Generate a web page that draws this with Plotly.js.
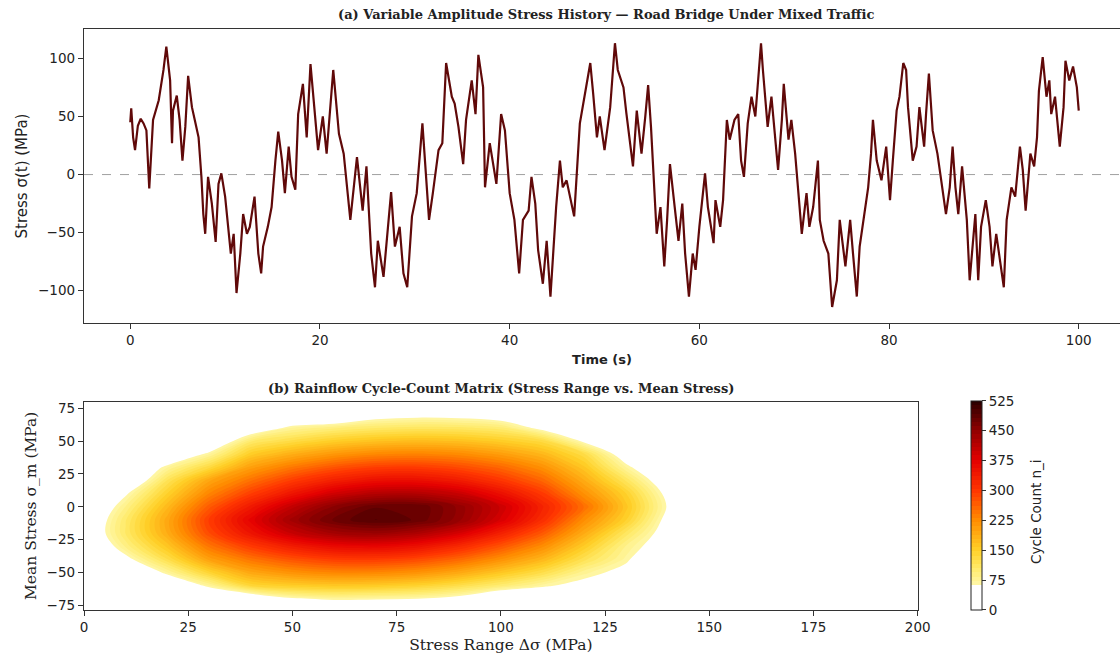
<!DOCTYPE html>
<html><head><meta charset="utf-8">
<script src="https://cdn.plot.ly/plotly-3.0.1.min.js"></script>
<style>html,body{margin:0;padding:0;background:#fff}#chart{width:1120px;height:658px}</style>
</head><body><div id="chart"></div>
<script>
// ---- (a) stress history ----
const timeS = [0,0.1,0.3,0.5,0.8,1.1,1.4,1.7,2.0,2.4,3.0,3.5,3.8,4.2,4.4,4.5,4.9,5.2,5.5,5.8,6.1,6.5,6.8,7.2,7.5,7.7,7.9,8.2,8.6,9.0,9.3,9.6,10.0,10.3,10.6,10.9,11.2,11.6,11.9,12.3,12.6,13.1,13.5,13.8,14.0,14.5,14.9,15.3,15.6,16.0,16.3,16.7,17.0,17.4,17.7,18.2,18.6,19.0,19.5,19.8,20.3,20.7,21.4,
22.0,22.5,23.2,23.9,24.5,24.9,25.4,25.8,26.1,26.7,27.5,27.9,28.4,28.8,29.2,29.7,30.2,30.8,31.1,31.5,31.9,32.5,32.9,33.3,33.9,34.2,34.6,35.1,35.4,36.0,36.4,36.7,37.2,37.4,37.9,38.3,38.6,39.1,39.5,40.0,40.5,41.0,41.4,42.0,42.3,42.7,43.0,43.5,43.9,44.3,44.9,45.3,45.6,46.0,46.3,46.8,47.4,47.9,48.5,48.8,49.2,
49.5,50.0,50.6,51.1,51.4,52.0,52.3,52.7,53.0,53.4,53.9,54.3,54.6,54.9,55.2,55.5,55.9,56.3,56.6,56.9,57.4,57.8,58.2,58.5,58.9,59.3,59.6,60.0,60.6,60.9,61.5,61.7,62.2,62.5,62.9,63.2,63.7,64.1,64.4,64.7,65.1,65.5,65.9,66.2,66.5,66.7,67.2,67.6,67.9,68.3,68.7,68.9,69.4,69.7,70.1,70.4,70.8,71.3,71.6,72.0,72.5,72.7,73.1,73.6,74.0,74.5,74.8,75.4,75.9,
76.2,76.6,76.9,77.4,77.8,78.1,78.3,78.7,79.2,79.7,80.1,80.4,80.8,81.1,81.5,81.8,82.0,82.5,82.9,83.2,83.7,83.9,84.2,84.6,85.1,85.5,86.0,86.4,86.7,87.0,87.3,87.7,88.2,88.5,88.9,89.1,89.4,89.7,90.2,90.6,90.9,91.3,91.7,92.1,92.4,92.9,93.3,93.8,94.1,94.4,94.9,95.3,95.6,95.8,96.2,96.6,96.9,97.1,97.5,98.0,98.4,98.6,99.0,99.4,99.8,100.0];
const stressMPa = [45,57,32,21,42,48,44,38,-12,47,64,90,110,81,27,55,68,47,12,41,85,58,47,32,-2,-34,-51,-2,-25,-58,-8,1,-19,-45,-68,-51,-102,-68,-34,-51,-45,-19,-68,-85,-62,-45,-28,12,37,12,-16,24,-2,-13,52,78,32,95,50,21,50,18,90,
35,18,-39,15,-31,7,-68,-97,-57,-88,-15,-62,-45,-85,-97,-36,-16,44,7,-39,-16,21,27,96,67,61,41,9,47,81,52,103,75,-11,27,9,-8,52,38,-16,-39,-85,-39,-31,-2,-25,-65,-94,-57,-105,-28,12,-11,-5,-16,-36,44,67,96,70,32,
50,21,58,113,90,75,53,24,7,55,18,50,77,41,-5,-51,-28,-79,-39,9,-28,-57,-25,-68,-105,-68,-82,-45,1,-28,-59,-22,-45,-22,47,30,47,52,12,-2,44,67,50,81,113,90,41,67,38,4,47,78,30,47,18,-11,-51,-16,-45,-28,12,-39,-57,-68,-114,-91,-39,-79,-39,
-68,-105,-62,-34,-11,18,47,12,-5,24,-22,12,55,67,96,90,58,12,24,58,24,52,87,38,18,-5,-34,-11,24,-11,-34,7,-39,-91,-57,-34,-91,-45,-22,-45,-79,-51,-74,-97,-39,-11,-19,24,4,-31,18,7,32,72,101,67,81,52,67,24,58,98,81,93,75,55];
const timeTicks = [0,20,40,60,80,100];
const stressTicks = [-100,-50,0,50,100];

// ---- (b) rainflow matrix ----
const stressRangeMPa = [0,10,20,30,40,50,60,70,80,90,100,110,120,130,140,150];
const meanStressMPa = [-80,-70,-60,-50,-40,-30,-20,-10,0,10,20,30,40,50,60,70,80];
const cycleCount = [
 [0,0,0,0,0,0,0,0,0,0,0,0,0,0,0,0],
 [0,0,0,0,17,58,70,67,63,47,0,0,0,0,0,0],
 [0,0,8,73,139,154,160,156,145,125,99,70,47,0,0,0],
 [0,0,73,143,196,219,231,230,218,194,161,126,78,48,0,0],
 [0,50,125,203,247,277,295,297,284,258,220,178,120,70,0,0],
 [0,87,162,246,298,337,363,369,353,319,275,224,155,83,33,0],
 [17,106,190,283,349,402,434,443,426,389,332,271,191,112,40,0],
 [12,104,195,295,372,435,476,494,481,445,386,313,223,148,48,0],
 [0,85,176,269,341,406,455,482,483,448,397,328,251,162,60,0],
 [0,58,148,232,294,347,394,418,420,400,355,299,220,148,50,0],
 [0,8,117,197,250,297,332,355,357,338,303,259,190,114,27,0],
 [0,0,73,134,205,244,275,294,297,283,258,220,160,74,0,0],
 [0,0,13,73,154,188,214,230,234,227,207,178,129,35,0,0],
 [0,0,0,8,103,130,152,166,172,167,153,132,55,0,0,0],
 [0,0,0,0,25,75,93,105,111,109,99,50,10,0,0,0],
 [0,0,0,0,0,0,0,42,50,47,33,0,0,0,0,0],
 [0,0,0,0,0,0,0,0,0,0,0,0,0,0,0,0]
];
const rangeTicks = [0,25,50,75,100,125,150,175,200];
const meanTicks = [-75,-50,-25,0,25,50,75];
const countTicks = [0,75,150,225,300,375,450,525];

const W = 1120, H = 658;
const fx = px => px / W;
const fy = py => 1 - py / H;

// colour ramp (white below the plotted range)
const countScale = [[0,'rgb(255,255,255)'],[0.125,'rgb(255,255,255)'],[0.126,'rgb(255,247,165)'],
  [0.2,'rgb(255,234,105)'],[0.286,'rgb(255,208,40)'],[0.43,'rgb(255,140,0)'],[0.57,'rgb(255,55,0)'],
  [0.714,'rgb(228,0,0)'],[0.857,'rgb(145,0,0)'],[1,'rgb(42,0,0)']];

const tickFont = {family:'DejaVu Sans', size:13.5, color:'#222'};
const axBase = {showline:true, mirror:true, linecolor:'#333', linewidth:1.2, ticks:'outside',
  ticklen:5, tickwidth:1, tickcolor:'#333', showgrid:false, zeroline:false, tickfont:tickFont};

const traces = [
  {type:'scatter', mode:'lines', x: timeS, y: stressMPa, xaxis:'x', yaxis:'y',
   line:{color:'#600909', width:2.2}, hoverinfo:'skip'},
  {type:'contour', x: stressRangeMPa, y: meanStressMPa, z: cycleCount, xaxis:'x2', yaxis:'y2',
   colorscale: countScale, zmin:0, zmax:525, autocontour:false,
   contours:{start:0, end:525, size:10.5, coloring:'fill', showlines:false},
   line:{width:0, smoothing:1},
   colorbar:{x:fx(971), xanchor:'left', xpad:0, y:fy(505.4), yanchor:'middle', ypad:0,
     len:209.3/H, lenmode:'fraction', thickness:11, outlinewidth:1, outlinecolor:'#222',
     tickvals: countTicks, ticks:'outside', ticklen:4, tickcolor:'#333',
     tickfont:{family:'DejaVu Sans', size:13.5, color:'#222'}}}
];

const layout = {
  width: W, height: H, margin:{l:0, r:0, t:0, b:0},
  paper_bgcolor:'#fff', plot_bgcolor:'#fff', showlegend:false,
  xaxis: Object.assign({}, axBase, {domain:[fx(84),1], range:[-4.88,104.35], tickvals: timeTicks, anchor:'y',
    title:{text:'Time (s)', font:{family:'DejaVu Sans', size:13, weight:'bold', color:'#222'}, standoff:7}}),
  yaxis: Object.assign({}, axBase, {domain:[fy(322.7), fy(29.3)], range:[-127.5,125], tickvals: stressTicks, anchor:'x',
    title:{text:'Stress σ(t) (MPa)', font:{family:'DejaVu Sans', size:15, color:'#222'}, standoff:6}}),
  xaxis2: Object.assign({}, axBase, {domain:[fx(84), fx(917.7)], range:[0,200], tickvals: rangeTicks, anchor:'y2',
    title:{text:'Stress Range Δσ (MPa)', font:{family:'DejaVu Serif', size:15.5, color:'#222'}, standoff:4}}),
  yaxis2: Object.assign({}, axBase, {domain:[fy(610), fy(401.7)], range:[-78.6,80], tickvals: meanTicks, anchor:'x2',
    title:{text:'Mean Stress σ_m (MPa)', font:{family:'DejaVu Serif', size:15.5, color:'#222'}, standoff:6}}),
  shapes:[{type:'line', xref:'x domain', yref:'y', x0:0, x1:1, y0:0, y1:0, layer:'below',
    line:{color:'rgba(120,120,120,0.7)', width:1, dash:'dash'}}],
  annotations:[
    {text:'(a) Variable Amplitude Stress History — Road Bridge Under Mixed Traffic', xref:'paper', yref:'paper',
     x:fx(605.5), y:fy(15), xanchor:'center', yanchor:'middle', showarrow:false,
     font:{family:'DejaVu Serif', size:13, weight:'bold', color:'#222'}},
    {text:'(b) Rainflow Cycle-Count Matrix (Stress Range vs. Mean Stress)', xref:'paper', yref:'paper',
     x:fx(500.9), y:fy(388.3), xanchor:'center', yanchor:'middle', showarrow:false,
     font:{family:'DejaVu Serif', size:13, weight:'bold', color:'#222'}},
    {text:'Cycle Count n_i', xref:'paper', yref:'paper', x:fx(1036), y:fy(512), textangle:-90,
     xanchor:'center', yanchor:'middle', showarrow:false,
     font:{family:'DejaVu Sans', size:13.5, color:'#222'}}
  ]
};

Plotly.newPlot('chart', traces, layout, {displayModeBar:false, staticPlot:true});
</script></body></html>
